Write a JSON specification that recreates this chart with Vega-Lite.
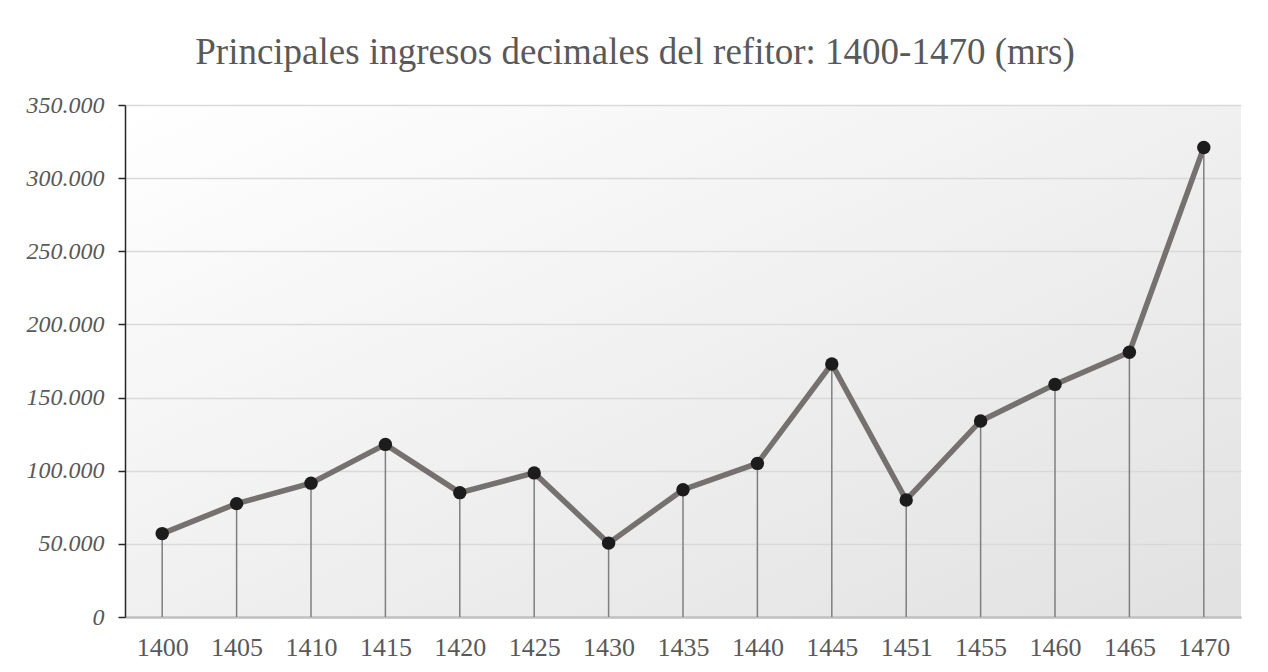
{
  "$schema": "https://vega.github.io/schema/vega-lite/v6.json",
  "width": 1116,
  "height": 512,
  "autosize": {"type": "none"},
  "padding": {"left": 125, "top": 105, "right": 27, "bottom": 55},
  "background": "white",
  "title": {
    "text": "Principales ingresos decimales del refitor: 1400-1470 (mrs)",
    "font": "Liberation Serif",
    "fontSize": 37,
    "fontWeight": "normal",
    "color": "#595959",
    "anchor": "middle",
    "dx": -48,
    "offset": 21
  },
  "data": {
    "values": [
      {"year": "1400", "value": 57000},
      {"year": "1405", "value": 77500},
      {"year": "1410", "value": 91500},
      {"year": "1415", "value": 118000},
      {"year": "1420", "value": 85000},
      {"year": "1425", "value": 98500},
      {"year": "1430", "value": 50500},
      {"year": "1435", "value": 87000},
      {"year": "1440", "value": 105000},
      {"year": "1445", "value": 173000},
      {"year": "1451", "value": 80000},
      {"year": "1455", "value": 134000},
      {"year": "1460", "value": 159000},
      {"year": "1465", "value": 181000},
      {"year": "1470", "value": 321000}
    ]
  },
  "config": {
    "view": {
      "stroke": null,
      "fill": {
        "gradient": "linear",
        "x1": 0, "y1": 0, "x2": 1, "y2": 1,
        "stops": [
          {"offset": 0, "color": "#ffffff"},
          {"offset": 1, "color": "#e1e1e1"}
        ]
      }
    },
    "axis": {
      "labelFont": "Liberation Serif",
      "labelColor": "#595959",
      "title": null
    }
  },
  "encoding": {
    "x": {
      "field": "year",
      "type": "ordinal",
      "sort": null,
      "scale": {"type": "point", "padding": 0.5},
      "axis": {
        "title": null,
        "labelAngle": 0,
        "labelFontSize": 26,
        "labelPadding": 17,
        "ticks": false,
        "domainColor": "#c0c0c0",
        "domainWidth": 2.5,
        "grid": false
      }
    }
  },
  "layer": [
    {
      "mark": {"type": "rule", "color": "#7f7f7f", "strokeWidth": 1.5},
      "encoding": {
        "y": {
          "field": "value",
          "type": "quantitative",
          "scale": {"domain": [0, 350000]},
          "axis": {
            "title": null,
            "values": [0, 50000, 100000, 150000, 200000, 250000, 300000, 350000],
            "labelExpr": "replace(format(datum.value, ','), ',', '.')",
            "labelFontSize": 24,
            "labelFontStyle": "italic",
            "labelPadding": 14,
            "tickSize": 7,
            "tickColor": "#262626",
            "tickWidth": 1.5,
            "domainColor": "#262626",
            "domainWidth": 1.5,
            "grid": true,
            "gridColor": "#d9d9d9",
            "gridWidth": 1.5
          }
        },
        "y2": {"datum": 0}
      }
    },
    {
      "mark": {"type": "line", "color": "#767171", "strokeWidth": 5.5},
      "encoding": {
        "y": {"field": "value", "type": "quantitative"}
      }
    },
    {
      "mark": {"type": "point", "filled": true, "color": "#1c1c1c", "size": 180, "opacity": 1},
      "encoding": {
        "y": {"field": "value", "type": "quantitative"}
      }
    }
  ]
}
